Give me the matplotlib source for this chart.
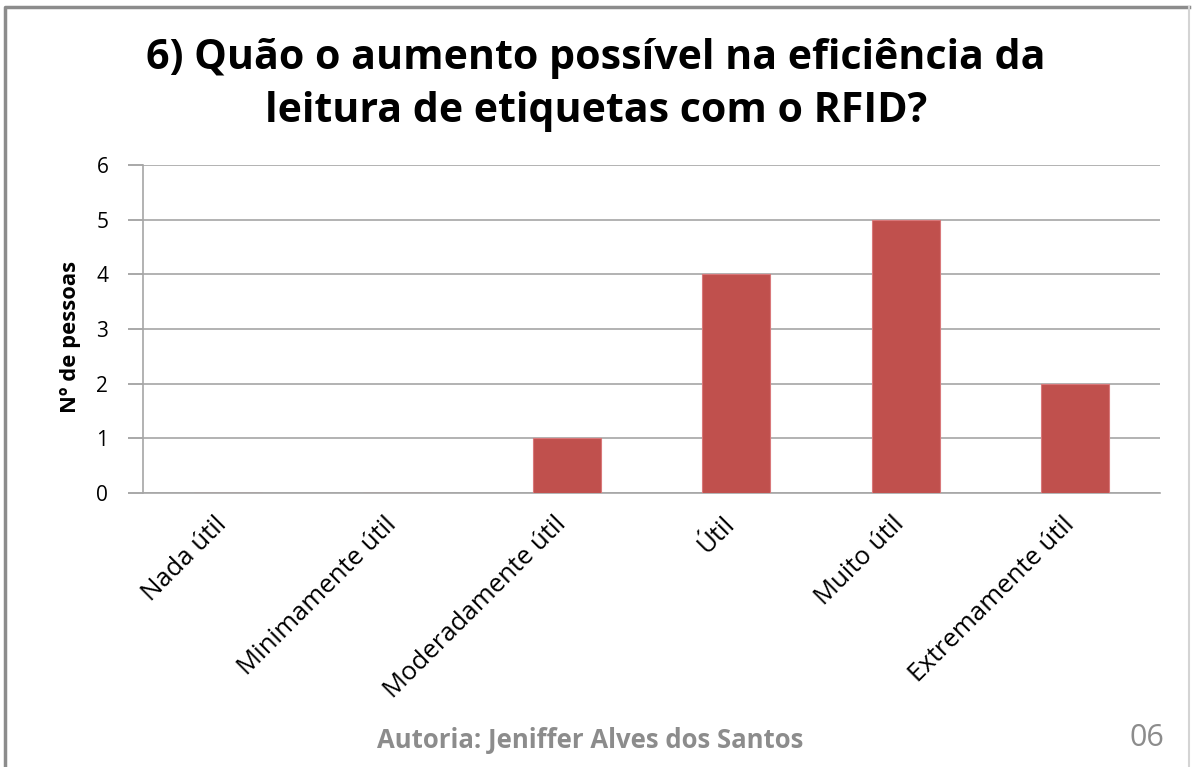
import matplotlib.pyplot as plt
from matplotlib.lines import Line2D

# dados do gráfico
categorias = ['Nada útil', 'Minimamente útil', 'Moderadamente útil', 'Útil',
              'Muito útil', 'Extremamente útil']
pessoas = [0, 0, 1, 4, 5, 2]
y_ticks = [0, 1, 2, 3, 4, 5, 6]

titulo = '6) Quão o aumento possível na eficiência da\nleitura de etiquetas com o RFID?'
rotulo_y = 'Nº de pessoas'
autoria = 'Autoria: Jeniffer Alves dos Santos'
pagina = '06'

plt.rcParams['font.family'] = ['Open Sans', 'DejaVu Sans']

fig = plt.figure(figsize=(11.92, 7.67), dpi=100)
ax = fig.add_axes([0.12, 0.357, 0.853, 0.428])

x = list(range(len(categorias)))
ax.bar(x, pessoas, width=0.4, color='#C0504D', edgecolor='#D9787A', linewidth=0.8, zorder=3)

ax.set_xlim(-0.5, len(categorias) - 0.5)
ax.set_ylim(0, 6)
ax.set_yticks(y_ticks)
ax.set_xticks(x)
# rótulos a 45°, ancorados na linha de base para terminar logo acima do tick
ax.set_xticklabels(categorias, rotation=45, ha='right', va='baseline',
                   rotation_mode='anchor', fontsize=18.5)
ax.tick_params(axis='y', labelsize=15, length=11, color='#999999', width=1.2, pad=14)
ax.tick_params(axis='x', length=0, pad=23)
ax.grid(axis='y', color='#a6a6a6', linewidth=1.2, zorder=0)

for side in ['top', 'right']:
    ax.spines[side].set_visible(False)
ax.spines['left'].set_color('#a6a6a6')
ax.spines['bottom'].set_color('#a6a6a6')
ax.spines['left'].set_linewidth(1.2)
ax.spines['bottom'].set_linewidth(1.2)

ax.set_ylabel(rotulo_y, fontsize=15.8, fontweight='bold')
ax.yaxis.set_label_coords(-0.061, 0.476)

fig.text(0.5, 0.889, titulo, ha='center', va='center', fontsize=29.6,
         fontweight='bold', linespacing=1.38)
fig.text(0.495, 0.034, autoria, ha='center', va='center', fontsize=18.5,
         fontweight='bold', color='#8c8c8c')
fig.text(0.962, 0.038, pagina, ha='center', va='center', fontsize=22, color='#8c8c8c')

# moldura do slide
x0, x1, y0 = 5 / 1192, 1189 / 1192, 1 - 7 / 767
fig.add_artist(Line2D([x0, x0, x1], [0, y0, y0], transform=fig.transFigure,
                      color='#8c8c8c', linewidth=2.5))
fig.add_artist(Line2D([x1, x1], [y0, 0], transform=fig.transFigure,
                      color='#d4d4d4', linewidth=1.5))

fig.savefig('out.png', dpi=100)
